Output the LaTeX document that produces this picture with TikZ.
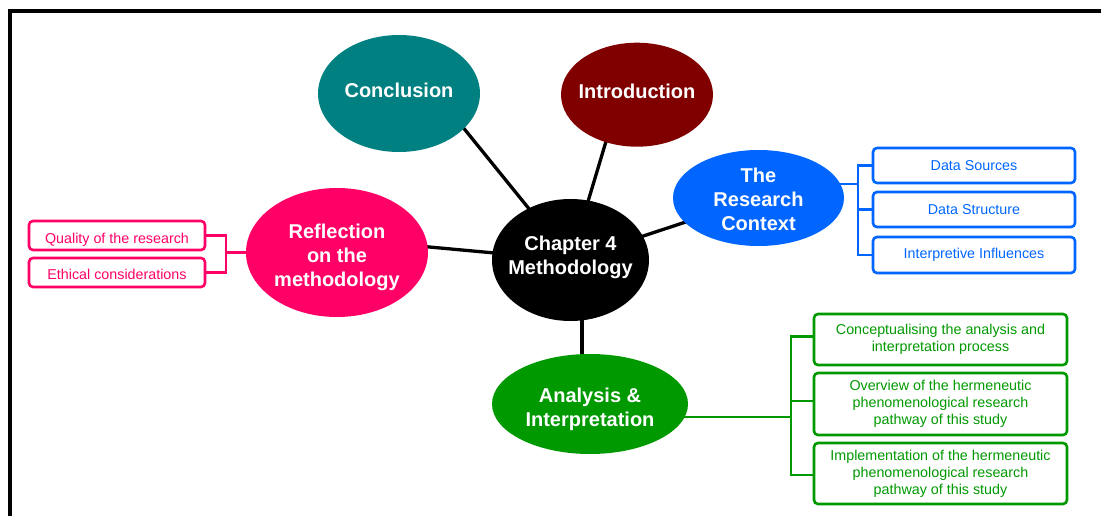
\documentclass[tikz,border=0pt]{standalone}
\usepackage{fontspec}
\setmainfont{Liberation Sans}
\usetikzlibrary{shapes.geometric,backgrounds}

\definecolor{cTeal}{RGB}{0,128,128}
\definecolor{cMaroon}{RGB}{128,0,0}
\definecolor{cBlue}{RGB}{0,102,255}
\definecolor{cPink}{RGB}{255,0,102}
\definecolor{cGreen}{RGB}{0,153,0}

\tikzset{
  bubble/.style={ellipse, draw=none, inner sep=0pt},
  bubtext/.style={text=white, align=center, inner sep=0pt,
    font=\fontsize{20}{24}\selectfont\bfseries},
  subbox/.style={draw=#1, text=#1, rounded corners=4pt, line width=2.6pt,
    align=center, inner sep=0pt, font=\fontsize{14.3}{16.8}\selectfont},
  spoke/.style={line width=3.3pt, black},
  branch/.style={line width=2.6pt, draw=#1},
}

\begin{document}
\begin{tikzpicture}[x=1pt, y=-1pt]
  \useasboundingbox (0,0) rectangle (1101,516);
  \clip (0,0) rectangle (1101,516);

  % outer frame, running off the right and bottom edges
  \draw[line width=4pt] (9.5,560) -- (9.5,11.3) -- (1140,11.3);

  % central topic and the five chapter bubbles
  \node[bubble, fill=black, minimum width=157pt, minimum height=122pt] (chap) at (570.5,260) {};
  \node[bubble, fill=cTeal, minimum width=162pt, minimum height=117pt] (concl) at (399,93.5) {};
  \node[bubble, fill=cMaroon, minimum width=152pt, minimum height=104pt] (intro) at (637,94.7) {};
  \node[bubble, fill=cBlue, minimum width=171pt, minimum height=96pt] (rctx) at (758.5,198) {};
  \node[bubble, fill=cPink, minimum width=182pt, minimum height=129pt] (refl) at (337,252.5) {};
  \node[bubble, fill=cGreen, minimum width=196pt, minimum height=100pt] (anal) at (590,404) {};

  \node[bubtext] (chap-t)  at ([yshift=2.3pt]chap.center) {Chapter 4\\Methodology};
  \node[bubtext] (concl-t) at ([yshift=3.5pt]concl.center) {Conclusion};
  \node[bubtext] (intro-t) at ([yshift=3.4pt]intro.center) {Introduction};
  \node[bubtext] (rctx-t)  at ([yshift=-1.7pt]rctx.center) {The\\Research\\Context};
  \node[bubtext] (refl-t)  at ([yshift=-4.5pt]refl.center) {Reflection\\on the\\methodology};
  \node[bubtext] (anal-t)  at ([yshift=-5.2pt]anal.center) {Analysis \&\\Interpretation};

  % spokes from the central topic, kept behind the bubbles
  \begin{scope}[on background layer]
    \draw[spoke] (chap.center) -- ([xshift=36.6pt]concl.center);
    \draw[spoke] (chap.center) -- ([xshift=-17pt]intro.center);
    \draw[spoke] (chap.center) -- (rctx.center);
    \draw[spoke] (chap.center) -- ([yshift=14pt]refl.center);
    \draw[spoke] ([xshift=11.5pt]chap.center) -- ([xshift=-8pt]anal.center);
  \end{scope}

  % reflection sub-topics
  \node[subbox=cPink, minimum width=176pt, minimum height=29pt,
        text height=15.2pt, text depth=0pt] (qual) at (117,235.5) {Quality of the research};
  \node[subbox=cPink, minimum width=176pt, minimum height=29pt,
        text height=13.3pt, text depth=0pt] (ethic) at (117,272.5) {Ethical considerations};
  \coordinate (reflJ) at (226,252.5);
  \begin{scope}[on background layer]
    \draw[branch=cPink] (refl.center) -- (reflJ);
  \end{scope}
  \draw[branch=cPink] (qual.east) -| (reflJ) |- (ethic.east);

  % research context sub-topics
  \node[subbox=cBlue, minimum width=202pt, minimum height=35pt] (dsrc) at (974,165.5) {Data Sources};
  \node[subbox=cBlue, minimum width=202pt, minimum height=35pt] (dstr) at (974,209.5) {Data Structure};
  \node[subbox=cBlue, minimum width=202pt, minimum height=36pt] (intf) at (974,255) {Interpretive Influences};
  \coordinate (rctxJ) at (858,184);
  \begin{scope}[on background layer]
    \draw[branch=cBlue] ([yshift=14pt]rctx.center) -- (rctxJ);
  \end{scope}
  \draw[branch=cBlue] (dsrc.west) -| (rctxJ);
  \draw[branch=cBlue] (intf.west) -| (rctxJ);
  \draw[branch=cBlue] (dstr.west) -- (dstr.west -| rctxJ);

  % analysis sub-topics
  \node[subbox=cGreen, minimum width=253pt, minimum height=51pt] (conc) at (940.5,339.5) {Conceptualising the analysis and\\interpretation process};
  \node[subbox=cGreen, minimum width=253pt, minimum height=62pt] (over) at (940.5,404) {Overview of the hermeneutic\\phenomenological research\\pathway of this study};
  \node[subbox=cGreen, minimum width=253pt, minimum height=61pt] (impl) at (940.5,473.5) {Implementation of the hermeneutic\\phenomenological research\\pathway of this study};
  \coordinate (analJ) at (791,417);
  \begin{scope}[on background layer]
    \draw[branch=cGreen] ([yshift=-13pt]anal.center) -- (analJ);
  \end{scope}
  \draw[branch=cGreen] ([yshift=3pt]conc.west) -| (analJ);
  \draw[branch=cGreen] ([yshift=-1.5pt]impl.west) -| (analJ);
  \draw[branch=cGreen] ([yshift=3pt]over.west) -- ([yshift=3pt]over.west -| analJ);
\end{tikzpicture}
\end{document}
